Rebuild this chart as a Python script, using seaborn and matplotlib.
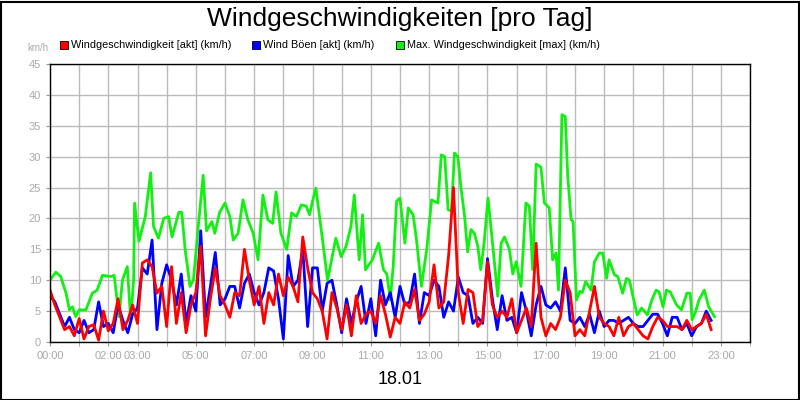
import matplotlib
matplotlib.use("Agg")
import matplotlib.pyplot as plt
import seaborn as sns
import numpy as np
import pandas as pd

# Red/blue series: 10-minute samples starting 00:00
red = [8.4,6,4,2,2.5,1,3.8,0.5,2.5,2.8,0.3,5,1.8,3,7,2,3.5,6,3,12.8,13.3,12.2,7.9,9,2.5,12.2,3,8,1.5,6,8,15.5,1,7,12,
       7.5,6,4,8,7.5,15,10,6,9,3,8,6,11,7.5,10.5,9,6.5,17,12,8,7,5,0.5,8,5.5,2,6,1,7.5,3,4.5,5,3,7.5,4.5,
       0.8,4,3,6.5,5.5,8.5,3.5,4.5,6.5,12.5,5.5,6.5,14,25,8,3,8.5,8,2.5,3.5,13,6,4,5,4,7,1.5,3.5,5.5,2.5,16,4,1,3,2,
       4,10,8,1,2,1,5,9,4,3,2.5,1,4,1,2.5,3,2,1,0.5,2.5,4,3.5,2.5,2.5,2.5,2,3.5,2,2.5,3,4.5,2]
blue = [7.5,6.5,4.5,2.5,4,2,1.5,3.5,1.5,2,6.5,2.5,3,1.5,6,3.5,1.5,4.5,5.5,12,11,16.5,2,9.5,12.5,10,6,11,3,7.5,5,18,4,9,14.5,
        6,7,9,9,5.5,9.5,11,8,6,8,12,11.5,7,0.5,14,9,10,15,2.5,12,12,5,9.5,10,6,1.5,7,3,6.5,9,3,7,1,10,6,
        8,4,9,6,6.5,11,3,8,7.5,10,9,4,6.5,5,10.5,8,7.5,3,4,3,13.5,7,2,7.5,3.5,4,1.5,8,5,1,6,9,6,5.5,6.5,
        5,12,3.5,3,4,2.5,4.5,1.5,5,2.5,3.5,3.5,3,3.5,4,3,2.5,2.5,3.5,4.5,4.5,3,1,4,4,2,3,1,2.5,3,5,3.5]
green_times = ["00:00","00:12","00:22","00:33","00:40","00:46","00:53","01:00","01:14","01:27","01:37","01:48","02:05","02:12","02:22",
               "02:29","02:39","02:46","02:52","02:54","03:03","03:16","03:27","03:33","03:43","03:54","04:04","04:11","04:25","04:31",
               "04:38","04:48","04:55","05:05","05:15","05:22","05:33","05:39","05:49","06:00","06:10","06:17","06:27","06:37","06:47",
               "06:58","07:08","07:18","07:28","07:38","07:45","07:55","08:07","08:17","08:27","08:37","08:47","08:54","09:00","09:07",
               "09:21","09:31","09:42","09:48","09:59","10:09","10:19","10:26","10:36","10:43","10:49","11:03","11:16","11:26","11:33",
               "11:40","11:46","11:53","12:00","12:10","12:17","12:27","12:34","12:44","12:55","13:05","13:18","13:25","13:32","13:39",
               "13:46","13:52","13:59","14:06","14:13","14:19","14:26","14:33","14:40","14:46","14:53","15:01","15:11","15:21","15:28",
               "15:35","15:45","15:52","15:59","16:09","16:19","16:26","16:33","16:40","16:50","16:57","17:07","17:14","17:21","17:26",
               "17:33","17:40","17:45","17:52","17:56","18:03","18:10","18:15","18:22","18:33","18:40","18:50","18:57","19:05","19:10",
               "19:21","19:28","19:38","19:46","19:52","20:00","20:08","20:17","20:29","20:38","20:47","20:53","21:01","21:08","21:16",
               "21:29","21:39","21:50","21:57","22:01","22:08","22:15","22:26","22:35","22:47"]
green = [10,11.3,10.6,7.9,5.2,5.7,4.1,5.2,5.2,7.9,8.4,10.8,10.6,10.8,4.1,
         10,12.2,3.6,10,22.5,16.3,20.3,27.4,18.7,16.8,20,20.3,17,21,21,
         15,9,10,18.7,27,18,19.5,17.6,21,22.5,20.3,16.5,17.6,23,19.8,
         17.6,13.3,23.8,19.8,19.2,24.3,17.6,15,20.9,20.3,22.2,22,20.6,22.8,24.9,
         16.3,10,14.4,16.8,13.8,15.5,18.7,23.8,13.3,20.6,11.7,13.3,16,11.7,11,
         6.8,12.2,22.8,23.3,16,21.7,20.6,16.5,9,15,23,22.5,30.3,30,21.4,
         21.2,30.6,30,24.6,20.3,14.6,18.2,17.6,15.5,11.7,16,23.3,15.5,7.4,16,
         17,15,11,13,9,22.5,22,11.7,28.8,28.3,22.5,21.7,13.3,14.4,8.4,
         36.8,36.5,26.9,19.8,19.5,6.8,8.2,8,9.8,8.4,13,14.4,14.4,10.3,13.3,
         10.9,10.6,7.9,10.3,10,7.1,4.4,5.5,4.4,6.8,8.4,8.1,5.7,8.4,8.1,
         6,5.2,7.9,7.9,3.6,4.9,6.8,8.4,5.7,4.1]
tick_hours = [0,2,3,5,7,9,11,13,15,17,19,21,23]
tick_labels = ["00:00","02:00","03:00","05:00","07:00","09:00","11:00","13:00","15:00","17:00","19:00","21:00","23:00"]
names = ["Windgeschwindigkeit [akt] (km/h)", "Wind Böen [akt] (km/h)", "Max. Windgeschwindigkeit [max] (km/h)"]
colors = ["#ff0000", "#0000ff", "#11f011"]

plt.rcParams["font.family"] = "Liberation Sans"
t10 = np.arange(len(red)) / 6.0
gh = [int(s[:2]) + int(s[3:]) / 60 for s in green_times]
df_r = pd.DataFrame({"h": t10, "v": red})
df_b = pd.DataFrame({"h": t10, "v": blue})
df_g = pd.DataFrame({"h": gh, "v": green})

fig = plt.figure(figsize=(8, 4), dpi=100)
fig.patch.set_facecolor("white")
ax = fig.add_axes([50/800, 58/400, 700/800, 278/400])
for df, c in [(df_g, colors[2]), (df_b, colors[1]), (df_r, colors[0])]:
    sns.lineplot(data=df, x="h", y="v", color=c, lw=2, ax=ax, estimator=None)
ax.set_xlim(0, 24)
ax.set_ylim(0, 45)
ax.set_xticks(range(0, 25), minor=True)
ax.set_xticks(tick_hours)
ax.set_xticklabels(tick_labels)
ax.set_yticks(range(0, 46, 5))
ax.grid(True, which="both", color="#bbbbbb", lw=1)
ax.set_axisbelow(True)
ax.tick_params(labelsize=8, labelcolor="#aaaaaa", color="#999999", length=3)
ax.tick_params(which="minor", length=3, color="#999999")
ax.set_xlabel(""); ax.set_ylabel("")
for s in ax.spines.values():
    s.set_color("black"); s.set_linewidth(1)

fig.text(0.5, 1-19/400, "Windgeschwindigkeiten [pro Tag]", ha="center", va="center", fontsize=19)
fig.text(27/800, 1-48/400, "km/h", fontsize=7, color="#aaaaaa", va="center")
fig.text(0.5, 1-380/400, "18.01", ha="center", va="center", fontsize=13)
lx = [60, 252, 396]
for x, n, c in zip(lx, names, colors):
    fig.patches.append(plt.Rectangle((x/800, 1-49/400), 8/800, 8/400, transform=fig.transFigure,
                                     facecolor=c, edgecolor="black", lw=0.6))
    fig.text((x+11)/800, 1-45/400, n, fontsize=7.8, va="center")
fig.patches.append(plt.Rectangle((0.5/800, 0.5/400), 798/800, 398/400, transform=fig.transFigure,
                                 fill=False, edgecolor="black", lw=1.5))
fig.savefig("out.png", dpi=100)
